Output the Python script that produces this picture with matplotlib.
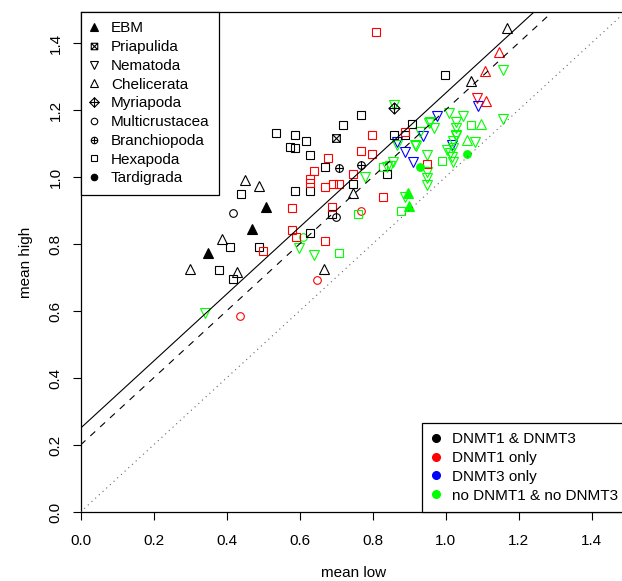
import matplotlib
matplotlib.use('Agg')
import matplotlib.pyplot as plt
from matplotlib.path import Path
from matplotlib.lines import Line2D

plt.rcParams['font.family'] = ['Liberation Sans', 'DejaVu Sans']
plt.rcParams['font.size'] = 11

# ---- data: (mean low, mean high) per taxon and DNMT status ----
# status colours: k = DNMT1 & DNMT3, r = DNMT1 only, b = DNMT3 only, g = neither
ebm_k = ([0.509, 0.469, 0.350], [0.911, 0.844, 0.774])
ebm_g = ([0.898, 0.899], [0.951, 0.913])

priapulida_k = ([0.699], [1.117])

nematoda_r = ([1.087], [1.235])
nematoda_b = ([0.976, 1.088, 0.868, 0.938, 0.889, 0.910, 1.017],
              [1.182, 1.212, 1.105, 1.122, 1.076, 1.046, 1.096])
nematoda_g = ([0.859, 1.009, 0.958, 0.968, 0.930, 1.028, 1.028, 1.028, 0.868, 0.917,
               0.948, 1.020, 1.012, 1.020, 0.948, 0.948, 0.948, 0.857, 0.848, 0.839,
               0.779, 0.889, 0.599, 0.640, 0.341, 1.158, 1.047, 1.029, 1.021, 1.003,
               1.019, 1.081, 1.158, 0.919, 0.955],
              [1.215, 1.192, 1.165, 1.145, 1.135, 1.165, 1.145, 1.125, 1.096, 1.096,
               1.066, 1.086, 1.071, 1.046, 1.016, 0.996, 0.976, 1.046, 1.033, 1.031,
               1.001, 0.941, 0.787, 0.767, 0.594, 1.319, 1.182, 1.122, 1.108, 1.081,
               1.061, 1.105, 1.172, 1.093, 1.162])

chelicerata_k = ([0.450, 0.488, 0.387, 0.300, 0.430, 0.668, 0.747, 1.069, 1.168],
                 [0.991, 0.973, 0.814, 0.726, 0.716, 0.726, 0.951, 1.287, 1.444])
chelicerata_r = ([1.147, 1.109, 1.110], [1.374, 1.316, 1.228])
chelicerata_g = ([1.097, 1.058], [1.157, 1.110])

myriapoda_k = ([0.859], [1.205])

multicrustacea_k = ([0.419, 0.699], [0.892, 0.880])
multicrustacea_r = ([0.648, 0.768, 0.437], [0.693, 0.899, 0.585])
multicrustacea_g = ([0.609], [0.820])

branchiopoda_k = ([0.709, 0.768], [1.028, 1.036])

hexapoda_k = ([0.439, 0.588, 0.629, 0.669, 0.629, 0.410, 0.489, 0.379, 0.419, 0.688,
               0.999, 0.768, 0.718, 0.859, 0.889, 0.908, 0.588, 0.618, 0.574, 0.588,
               0.629, 0.747, 0.839, 0.536],
              [0.949, 0.958, 0.958, 1.029, 0.832, 0.792, 0.790, 0.722, 0.695, 0.890,
               1.304, 1.185, 1.155, 1.125, 1.125, 1.157, 1.125, 1.107, 1.090, 1.086,
               1.066, 0.979, 1.009, 1.131])
hexapoda_r = ([0.809, 0.640, 0.629, 0.629, 0.671, 0.579, 0.579, 0.590, 0.669, 0.688,
               0.499, 0.799, 0.889, 0.768, 0.798, 0.679, 0.691, 0.709, 0.747, 0.828,
               0.948],
              [1.434, 1.018, 0.993, 0.981, 0.971, 0.908, 0.842, 0.820, 0.810, 0.911,
               0.780, 1.125, 1.135, 1.079, 1.068, 1.058, 0.979, 0.979, 1.008, 0.941,
               1.039])
hexapoda_g = ([0.759, 0.878, 0.708, 0.828, 0.990, 1.069],
              [0.890, 0.899, 0.772, 1.029, 1.049, 1.155])

tardigrada_g = ([0.930, 1.058], [1.029, 1.068])

taxa = ['EBM', 'Priapulida', 'Nematoda', 'Chelicerata', 'Myriapoda',
        'Multicrustacea', 'Branchiopoda', 'Hexapoda', 'Tardigrada']
status_labels = ['DNMT1 & DNMT3', 'DNMT1 only', 'DNMT3 only', 'no DNMT1 & no DNMT3']
status_colors = ['black', 'red', 'blue', '#00ff00']

# ---- R-like point symbols ----
MV, LT, CP = Path.MOVETO, Path.LINETO, Path.CLOSEPOLY
box = Path([(-1, -1), (1, -1), (1, 1), (-1, 1), (-1, -1)], [MV, LT, LT, LT, CP])
cross = Path([(-1, 0), (1, 0), (0, -1), (0, 1)], [MV, LT, MV, LT])
sq_x = Path.make_compound_path(
    box, Path([(-1, -1), (1, 1), (-1, 1), (1, -1)], [MV, LT, MV, LT]))
diamond_plus = Path.make_compound_path(
    Path([(0, 1), (1, 0), (0, -1), (-1, 0), (0, 1)], [MV, LT, LT, LT, CP]), cross)
circle_plus = Path.make_compound_path(Path.unit_circle(), cross)

# marker, size, filled
sym = {
    'EBM': ('^', 6.5, True),
    'Priapulida': (sq_x, 5.5, False),
    'Nematoda': ('v', 7, False),
    'Chelicerata': ('^', 7, False),
    'Myriapoda': (diamond_plus, 8, False),
    'Multicrustacea': ('o', 5.5, False),
    'Branchiopoda': (circle_plus, 5.5, False),
    'Hexapoda': ('s', 5.5, False),
    'Tardigrada': ('o', 5.5, True),
}

series = [
    ('EBM', ebm_k, 0), ('EBM', ebm_g, 3),
    ('Priapulida', priapulida_k, 0),
    ('Nematoda', nematoda_r, 1), ('Nematoda', nematoda_b, 2), ('Nematoda', nematoda_g, 3),
    ('Chelicerata', chelicerata_k, 0), ('Chelicerata', chelicerata_r, 1),
    ('Chelicerata', chelicerata_g, 3),
    ('Myriapoda', myriapoda_k, 0),
    ('Multicrustacea', multicrustacea_k, 0), ('Multicrustacea', multicrustacea_r, 1),
    ('Multicrustacea', multicrustacea_g, 3),
    ('Branchiopoda', branchiopoda_k, 0),
    ('Hexapoda', hexapoda_k, 0), ('Hexapoda', hexapoda_r, 1), ('Hexapoda', hexapoda_g, 3),
    ('Tardigrada', tardigrada_g, 3),
]

fig = plt.figure(figsize=(6.22, 5.81), dpi=100)
ax = fig.add_axes([80.5 / 622, 69 / 581, 547.5 / 622, 500 / 581])

for taxon, (lo, hi), si in series:
    m, ms, filled = sym[taxon]
    c = status_colors[si]
    ax.plot(lo, hi, linestyle='none', marker=m, markersize=ms,
            markeredgecolor=c, markerfacecolor=c if filled else 'none',
            markeredgewidth=0.8, zorder=3)

# reference lines
ax.axline((0, 0.25), slope=1, color='black', lw=0.8, zorder=4)
ax.axline((0, 0.2), slope=1, color='black', lw=0.8, linestyle=(0, (6, 6)), zorder=4)
ax.axline((0, 0), slope=1, color='0.4', lw=0.8, linestyle=(0, (1, 3.5)), zorder=4)

ax.set_xlim(0, 1.5)
ax.set_ylim(0, 500 / 335)
ticks = [0.0, 0.2, 0.4, 0.6, 0.8, 1.0, 1.2, 1.4]
ax.set_xticks(ticks)
ax.set_xticklabels(['%.1f' % t for t in ticks])
ax.set_yticks(ticks)
ax.set_yticklabels(['%.1f' % t for t in ticks], rotation=90, va='center')
ax.tick_params(direction='out', length=6, width=0.8, labelsize=11)
ax.tick_params(axis='x', pad=10)
ax.tick_params(axis='y', pad=7)
for s in ax.spines.values():
    s.set_linewidth(0.9)

ax.set_xlabel('mean low', va='center')
ax.xaxis.set_label_coords(273.5 / 547.5, -61 / 500)
ax.set_ylabel('mean high', va='center')
ax.yaxis.set_label_coords(-54 / 547.5, 0.5)

# legends
leg_kw = dict(borderaxespad=0, fancybox=False, edgecolor='black', framealpha=1,
              fontsize=11, handlelength=0.56, handletextpad=0.8, labelspacing=0.31,
              borderpad=0.62)

tax_handles = []
for t in taxa:
    m, ms, filled = sym[t]
    tax_handles.append(Line2D([], [], linestyle='none', marker=m, markersize=ms * 0.85,
                              markeredgecolor='black',
                              markerfacecolor='black' if filled else 'none',
                              markeredgewidth=0.8))
leg1 = ax.legend(tax_handles, taxa, loc='upper left', **leg_kw)
leg1.get_frame().set_linewidth(0.9)
ax.add_artist(leg1)

st_handles = [Line2D([], [], linestyle='none', marker='o', markersize=5.5,
                     markeredgecolor=c, markerfacecolor=c) for c in status_colors]
leg2 = ax.legend(st_handles, status_labels, loc='lower right', **leg_kw)
leg2.get_frame().set_linewidth(0.9)

fig.savefig('out.png', dpi=100)
